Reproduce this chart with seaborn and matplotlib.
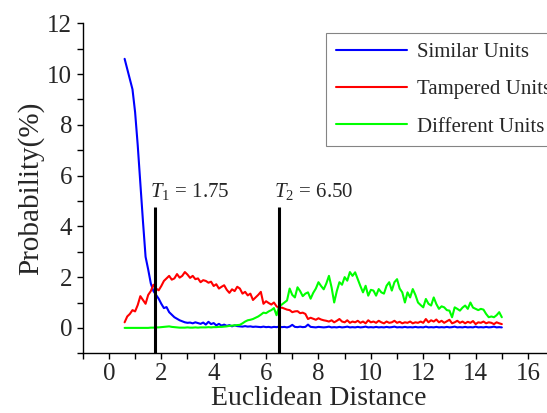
import numpy as np
import pandas as pd
import matplotlib
matplotlib.use("Agg")
import matplotlib.pyplot as plt
import seaborn as sns

sns.set_style("ticks")
plt.rcParams["font.family"] = ["Liberation Serif", "DejaVu Serif"]
plt.rcParams["mathtext.fontset"] = "custom"
plt.rcParams["mathtext.rm"] = "Liberation Serif"
plt.rcParams["mathtext.it"] = "Liberation Serif:italic"

# Euclidean distance grid (0.6 .. 15.0, step 0.1)
distance = np.round(np.arange(0.6, 15.05, 0.1), 1)

similar = [
    10.6, 10.2, 9.8, 9.4, 8.5, 7.2, 5.7, 4.2, 2.8, 2.3,
    1.75, 1.45, 1.3, 1.15, 0.95, 0.78, 0.82, 0.62, 0.52, 0.42,
    0.36, 0.3, 0.26, 0.22, 0.2, 0.21, 0.18, 0.22, 0.19, 0.16,
    0.21, 0.13, 0.24, 0.15, 0.19, 0.1, 0.16, 0.09, 0.13, 0.08,
    0.11, 0.06, 0.1, 0.07, 0.06, 0.05, 0.07, 0.05, 0.06, 0.04,
    0.05, 0.04, 0.03, 0.05, 0.03, 0.04, 0.02, 0.04, 0.03, 0.05,
    0.03, 0.04, 0.02, 0.05, 0.12, 0.04, 0.03, 0.05, 0.03, 0.04,
    0.13, 0.04, 0.03, 0.02, 0.04, 0.03, 0.02, 0.03, 0.05, 0.02,
    0.03, 0.02, 0.04, 0.02, 0.03, 0.05, 0.02, 0.03, 0.02, 0.04,
    0.02, 0.03, 0.05, 0.02, 0.03, 0.02, 0.04, 0.02, 0.03, 0.02,
    0.04, 0.02, 0.03, 0.05, 0.02, 0.03, 0.02, 0.04, 0.02, 0.03,
    0.02, 0.04, 0.02, 0.03, 0.02, 0.05, 0.02, 0.03, 0.02, 0.04,
    0.02, 0.03, 0.02, 0.04, 0.02, 0.03, 0.05, 0.02, 0.03, 0.02,
    0.04, 0.02, 0.03, 0.02, 0.05, 0.02, 0.03, 0.02, 0.04, 0.02,
    0.03, 0.05, 0.02, 0.03, 0.02,
]

tampered = [
    0.22, 0.45, 0.55, 0.7, 0.65, 0.9, 1.25, 1.1, 0.95, 1.3,
    1.45, 1.7, 1.55, 1.48, 1.65, 1.85, 1.95, 2.05, 1.9, 1.95,
    2.12, 1.98, 2.05, 2.2, 2.1, 1.97, 2.05, 1.92, 1.95, 1.8,
    1.88, 1.85, 1.78, 1.82, 1.65, 1.72, 1.55, 1.62, 1.68, 1.5,
    1.38, 1.52, 1.45, 1.62, 1.55, 1.35, 1.42, 1.28, 1.35, 1.1,
    1.2, 1.3, 1.42, 0.95, 1.05, 0.98, 0.92, 1.0, 0.85, 0.78,
    0.8, 0.76, 0.72, 0.7, 0.62, 0.65, 0.66, 0.58, 0.6, 0.55,
    0.35, 0.4, 0.36, 0.32, 0.38, 0.33, 0.3, 0.28, 0.25, 0.3,
    0.22, 0.28, 0.35, 0.25, 0.22, 0.3, 0.2, 0.25, 0.22, 0.28,
    0.2, 0.25, 0.18, 0.3, 0.22, 0.25, 0.2, 0.28, 0.22, 0.18,
    0.25, 0.2, 0.22, 0.28, 0.2, 0.24, 0.18, 0.22, 0.2, 0.25,
    0.18, 0.22, 0.2, 0.25, 0.2, 0.35, 0.22, 0.3, 0.25, 0.33,
    0.22, 0.28, 0.2, 0.26, 0.32, 0.18, 0.22, 0.28, 0.2, 0.25,
    0.18, 0.24, 0.2, 0.27, 0.15, 0.22, 0.2, 0.25, 0.18, 0.22,
    0.2, 0.15, 0.22, 0.18, 0.15,
]

different = [
    0.0, 0.0, 0.0, 0.0, 0.0, 0.0, 0.0, 0.0, 0.0, 0.0,
    0.01, 0.01, 0.02, 0.02, 0.03, 0.04, 0.05, 0.06, 0.04, 0.03,
    0.02, 0.01, 0.01, 0.01, 0.02, 0.01, 0.01, 0.02, 0.01, 0.02,
    0.02, 0.02, 0.03, 0.02, 0.03, 0.03, 0.04, 0.04, 0.05, 0.06,
    0.08, 0.09, 0.1, 0.11, 0.12, 0.18, 0.25, 0.3, 0.32, 0.35,
    0.4, 0.45, 0.52, 0.6, 0.58, 0.65, 0.7, 0.78, 0.5, 0.85,
    0.92, 1.0, 1.08, 1.55, 1.3, 1.2, 1.6, 1.45, 1.25, 1.35,
    1.4, 1.15, 1.38, 1.55, 1.8, 1.65, 1.52, 1.75, 2.05, 1.6,
    1.0, 1.45, 1.8, 1.7, 2.0, 1.86, 2.2, 2.05, 2.19, 1.92,
    1.65, 1.4, 1.66, 1.27, 1.5, 1.47, 1.27, 1.53, 1.4, 1.35,
    1.66, 1.8, 1.47, 1.8, 1.92, 1.55, 1.4, 1.0, 1.4, 1.2,
    1.53, 1.3, 1.0, 0.9, 0.81, 1.14, 0.95, 0.88, 1.2, 0.94,
    0.75, 0.85, 0.81, 0.7, 0.68, 0.42, 0.81, 0.75, 0.68, 0.8,
    0.88, 0.75, 1.0, 0.8, 0.75, 0.7, 0.75, 0.72, 0.55, 0.42,
    0.45, 0.42, 0.5, 0.62, 0.42,
]

series_names = ["Similar Units", "Tampered Units", "Different Units"]
series_colors = ["#0000FF", "#FF0000", "#00FF00"]
thresholds = [1.75, 6.50]
threshold_labels = [r"$T_1$ = 1.75", r"$T_2$ = 6.50"]

df = pd.DataFrame({
    "distance": np.tile(distance, 3),
    "prob": similar + tampered + different,
    "group": np.repeat(series_names, len(distance)),
})

fig = plt.figure(figsize=(5.47, 4.13), dpi=100)
ax = fig.add_axes([0.1512, 0.1446, 0.862, 0.799])

sns.lineplot(data=df, x="distance", y="prob", hue="group", hue_order=series_names,
             palette=series_colors, linewidth=1.5, ax=ax)

# threshold markers
for t, lab in zip(thresholds, threshold_labels):
    ax.plot([t, t], [-1, 4.78], color="black", linewidth=2.2, solid_capstyle="butt")
    ax.text(t - 0.2, 5.15, lab, fontsize=15, ha="left", va="baseline")

ax.set_xlim(-1, 17)
ax.set_ylim(-1, 12)
ax.set_xticks(np.arange(0, 17, 2))
ax.set_xticks(np.arange(-1, 17, 1), minor=True)
ax.set_yticks(np.arange(0, 13, 2))
ax.set_yticks(np.arange(-1, 13, 1), minor=True)
ax.tick_params(which="both", direction="out", length=4, width=1, labelsize=18, color="black")
ax.tick_params(axis="x", pad=3)
for side in ["top", "right"]:
    ax.spines[side].set_visible(False)
for side in ["left", "bottom"]:
    ax.spines[side].set_linewidth(1.0)
    ax.spines[side].set_color("black")

ax.set_xlabel("Euclidean Distance", fontsize=20, labelpad=1)
ax.set_ylabel("Probability(%)", fontsize=21, labelpad=2)

ax.legend(loc="upper left", bbox_to_anchor=(0.517, 0.970), borderaxespad=0,
          fontsize=15, frameon=True, fancybox=False, edgecolor="#666666",
          handlelength=3.4, handletextpad=0.5, labelspacing=0.85, borderpad=0.45)
ax.get_legend().get_frame().set_linewidth(0.8)

fig.savefig("out.png", dpi=100)
